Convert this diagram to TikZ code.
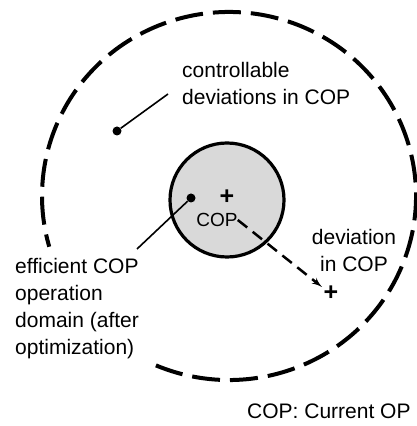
\documentclass[tikz,border=0pt]{standalone}
\usepackage{fontspec}
\setmainfont{Liberation Sans}
\usetikzlibrary{arrows, positioning}
\tikzstyle{effdomain}=[circle, draw=black, fill=black!15, line width=3.2pt, minimum size=114pt, inner sep=0pt]
\tikzstyle{dot}=[circle, fill=black, inner sep=0pt, minimum size=9pt]
\tikzstyle{pointer}=[line width=1.6pt]
\tikzstyle{deviate}=[->, line width=2.5pt, dash pattern=on 12pt off 7pt]
\tikzstyle{bound}=[line width=4pt, dash pattern=on 28pt off 10pt]
\tikzstyle{remark}=[align=left, inner sep=0pt, font=\fontsize{21}{27}\selectfont]
\tikzstyle{cross}=[inner sep=0pt, font=\fontsize{25}{27}\bfseries]

\begin{document}
\begin{tikzpicture}[x=1pt,y=1pt,>=latex']
    \useasboundingbox (0,0) rectangle (417,426);

    % Controllable region.
    \coordinate (ctr) at (229,230);
    \draw[bound] ([shift={(247:187 and 184)}]ctr) arc[start angle=247, end angle=556, x radius=187, y radius=184];

    % Efficient domain.
    \node[effdomain] (dom) at (227,226) {};
    \node[remark, font=\fontsize{19}{23}\selectfont] (cop) at (217,206) {COP};
    \node[cross] (op) at (227,229) {+};
    \node[cross] (devpt) at (331,133) {+};

    % Labels.
    \node[remark, anchor=west] (ctrl) at (182,342.5) {controllable\\deviations in COP};
    \node[remark, anchor=west] (eff) at (15,117) {efficient COP\\operation\\domain (after\\optimization)};
    \node[remark, align=center] (dev) at (354,175.5) {deviation\\in COP};
    \node[remark, anchor=west] (key) at (247,15) {COP: Current OP};

    % Pointers.
    \coordinate (ctrlend) at (168,332);
    \coordinate (effend) at (137,177);
    \coordinate (devend) at (322,139);
    \node[dot] (d1) at (117,295) {}
      edge[pointer] (ctrlend);
    \node[dot] (d2) at (191,228) {}
      edge[pointer] (effend);
    \draw[deviate] (cop.east) -- (devend);
\end{tikzpicture}
\end{document}
